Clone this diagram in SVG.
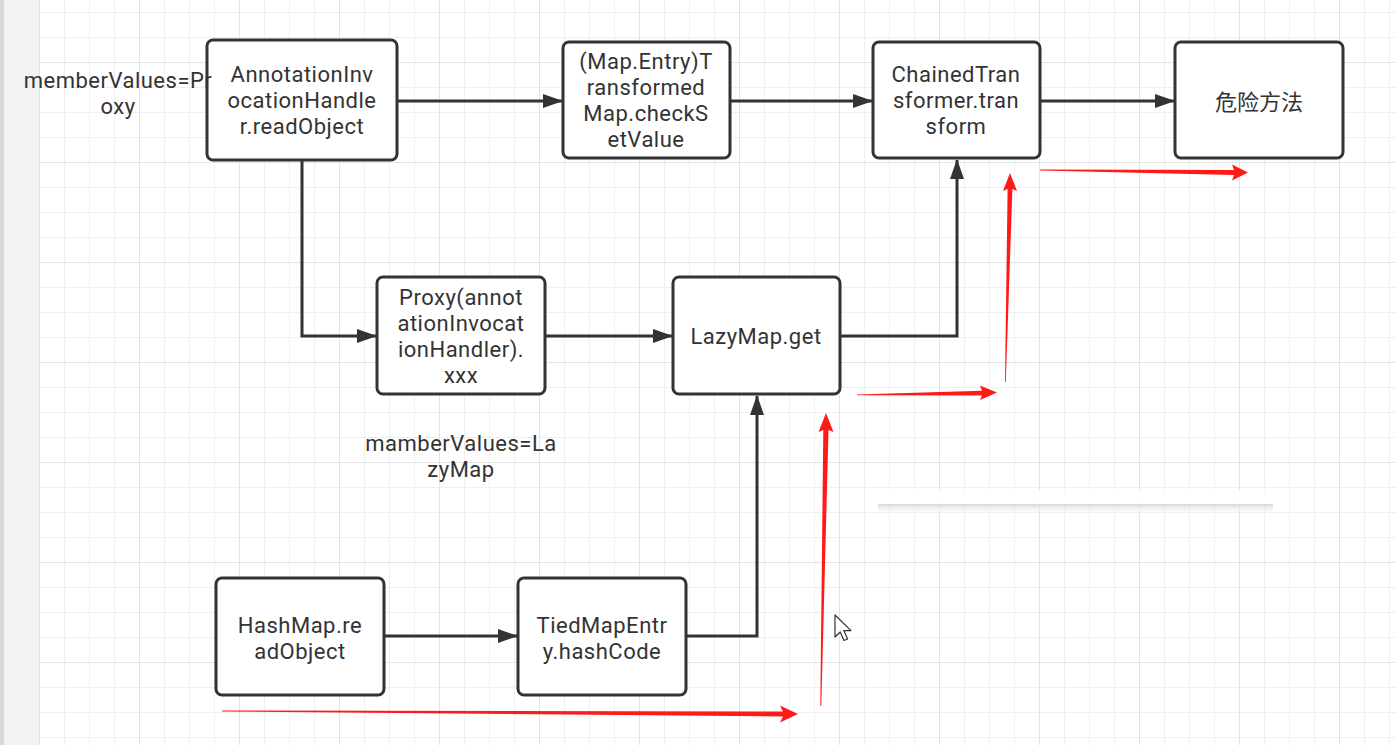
<svg xmlns="http://www.w3.org/2000/svg" width="1396" height="745" viewBox="0 0 1396 745">
<style>
.box{fill:#fff;stroke:#333;stroke-width:3}
.t{font-family:Roboto,"Liberation Sans",sans-serif;font-size:22px;letter-spacing:0.5px;fill:#333;text-anchor:middle}
.tc{font-family:"Noto Sans CJK SC","Noto Sans",sans-serif;font-size:22px;fill:#333;text-anchor:middle}
.edge{fill:none;stroke:#333;stroke-width:3}
.red{fill:#ff1a1a}
</style>
<defs>
<pattern id="minor" x="39" y="12" width="25" height="25" patternUnits="userSpaceOnUse">
<rect x="0" y="0" width="25" height="1" fill="#f0f0f0"/>
<rect x="0" y="0" width="1" height="25" fill="#f0f0f0"/>
</pattern>
<pattern id="major" x="39" y="62" width="100" height="100" patternUnits="userSpaceOnUse">
<rect x="0" y="0" width="100" height="1" fill="#e4e4e4"/>
<rect x="0" y="0" width="1" height="100" fill="#e4e4e4"/>
</pattern>
<linearGradient id="shadow" x1="0" y1="0" x2="0" y2="1">
<stop offset="0" stop-color="#d4d4d4" stop-opacity="0.9"/>
<stop offset="1" stop-color="#ffffff" stop-opacity="0"/>
</linearGradient>
<marker id="arr" markerUnits="userSpaceOnUse" markerWidth="20" markerHeight="14" refX="19" refY="7" orient="auto">
<path d="M0,0 L20,7 L0,14 Z" fill="#333"/>
</marker>
</defs>

<g id="background">
<rect x="0" y="0" width="1396" height="745" fill="#fff"/>
<rect x="39" y="0" width="1357" height="745" fill="url(#minor)"/>
<rect x="39" y="0" width="1357" height="745" fill="url(#major)"/>
<rect x="0" y="0" width="39" height="745" fill="#f2f2f2"/>
<rect x="0" y="0" width="4" height="745" fill="#d9d9d9"/>
<rect x="878" y="490" width="395" height="15" fill="#fff" opacity="0.9"/>
<rect x="878" y="504" width="395" height="11" fill="url(#shadow)"/>
</g>

<g id="connectors">
<path class="edge" d="M397,101 L562,101" marker-end="url(#arr)"/>
<path class="edge" d="M730,101 L872,101" marker-end="url(#arr)"/>
<path class="edge" d="M1040,101 L1174,101" marker-end="url(#arr)"/>
<path class="edge" d="M302,161 L302,336 L376,336" marker-end="url(#arr)"/>
<path class="edge" d="M546,336 L672,336" marker-end="url(#arr)"/>
<path class="edge" d="M841,336 L957,336 L957,160" marker-end="url(#arr)"/>
<path class="edge" d="M385,636 L517,636" marker-end="url(#arr)"/>
<path class="edge" d="M687,636 L757,636 L757,396" marker-end="url(#arr)"/>
</g>

<g id="n-aih">
<rect class="box" x="207" y="40" width="190" height="120" rx="6"/>
<text class="t" x="302" y="82"><tspan x="302">AnnotationInv</tspan><tspan x="302" dy="26">ocationHandle</tspan><tspan x="302" dy="26">r.readObject</tspan></text>
</g>
<g id="n-tmap">
<rect class="box" x="563" y="42" width="167" height="116" rx="6"/>
<text class="t" x="646" y="69"><tspan x="646">(Map.Entry)T</tspan><tspan x="646" dy="26">ransformed</tspan><tspan x="646" dy="26">Map.checkS</tspan><tspan x="646" dy="26">etValue</tspan></text>
</g>
<g id="n-chained">
<rect class="box" x="873" y="42" width="167" height="116" rx="6"/>
<text class="t" x="956" y="82"><tspan x="956">ChainedTran</tspan><tspan x="956" dy="26">sformer.tran</tspan><tspan x="956" dy="26">sform</tspan></text>
</g>
<g id="n-danger">
<rect class="box" x="1175" y="42" width="168" height="116" rx="6"/>
<text class="tc" x="1259" y="110">危险方法</text>
</g>
<g id="n-proxy">
<rect class="box" x="377" y="277" width="168" height="117" rx="6"/>
<text class="t" x="461" y="305"><tspan x="461">Proxy(annot</tspan><tspan x="461" dy="26">ationInvocat</tspan><tspan x="461" dy="26">ionHandler).</tspan><tspan x="461" dy="26">xxx</tspan></text>
</g>
<g id="n-lazymap">
<rect class="box" x="673" y="277" width="167" height="117" rx="6"/>
<text class="t" x="756" y="344">LazyMap.get</text>
</g>
<g id="n-hashmap">
<rect class="box" x="216" y="578" width="168" height="117" rx="6"/>
<text class="t" x="300" y="633"><tspan x="300">HashMap.re</tspan><tspan x="300" dy="26">adObject</tspan></text>
</g>
<g id="n-tied">
<rect class="box" x="518" y="578" width="168" height="117" rx="6"/>
<text class="t" x="602" y="633"><tspan x="602">TiedMapEntr</tspan><tspan x="602" dy="26">y.hashCode</tspan></text>
</g>
<g id="label-member">
<text class="t" x="118" y="88"><tspan x="118">memberValues=Pr</tspan><tspan x="118" dy="26">oxy</tspan></text>
</g>
<g id="label-mamber">
<text class="t" x="461" y="451"><tspan x="461">mamberValues=La</tspan><tspan x="461" dy="26">zyMap</tspan></text>
</g>

<g id="annotations">
<path class="red" d="M222,710.5 L783,711.5 L780,705.5 L798,714 L780,722.5 L783,716.5 L222,711.5 Z"/>
<path class="red" d="M820.3,706 L823.3,430 L818.5,432 L826,413 L833.5,432 L828.5,430 L821.3,706 Z"/>
<path class="red" d="M857,394.5 L982,390.8 L980,385.5 L997,392.5 L980,400 L982,395.5 L857,395.3 Z"/>
<path class="red" d="M1005,382 L1007.6,189 L1003,191 L1010,173 L1017,191 L1012.4,189 L1005.8,382 Z"/>
<path class="red" d="M1040,169.5 L1234,170 L1232,164.5 L1248,172.5 L1232,180.5 L1234,175 L1040,170.5 Z"/>
<path d="M835,615 L835,637 L840.2,632 L844,640.5 L847.6,639 L843.8,630.6 L851,630.6 Z" fill="#fff" stroke="#333" stroke-width="1.2" stroke-linejoin="round"/>
</g>
</svg>
